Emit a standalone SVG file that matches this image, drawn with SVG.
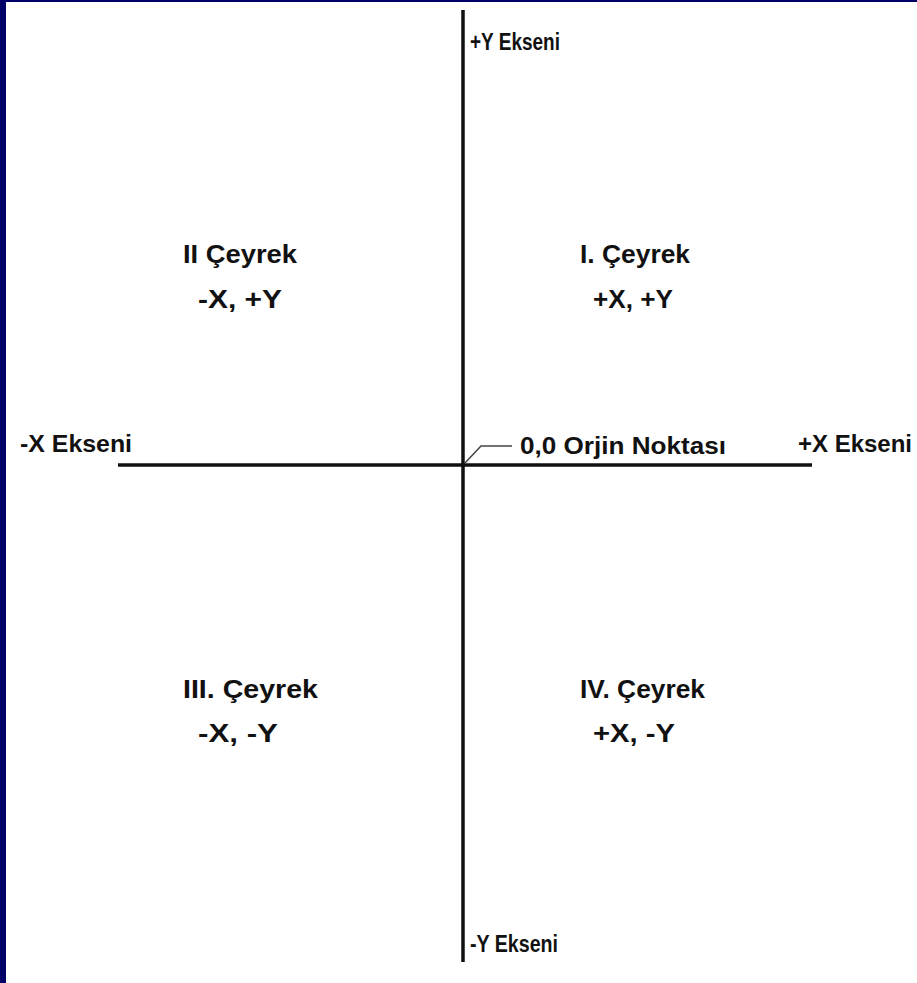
<svg xmlns="http://www.w3.org/2000/svg" width="917" height="983" viewBox="0 0 917 983">
<style>
.axis{stroke:#111;stroke-width:3.5;fill:none}
.lead{stroke:#444;stroke-width:1.5;fill:none}
.ax{font-family:"Liberation Sans",Arial,sans-serif;font-weight:bold;font-size:23px;fill:#111}
.q{font-family:"Liberation Sans",Arial,sans-serif;font-weight:bold;font-size:26px;fill:#111}
</style>
<rect x="0" y="0" width="917" height="983" fill="#ffffff"/>
<rect x="0" y="0" width="917" height="2" fill="#000066"/>
<rect x="0" y="0" width="6" height="983" fill="#000066"/>
<g id="connectors">
<line class="axis" x1="463" y1="10" x2="463" y2="962"/>
<line class="axis" x1="118" y1="465" x2="812" y2="465"/>
<polyline class="lead" points="465,463 481,446 512,446"/>
</g>
<g id="plusY"><text class="ax" x="470" y="50" textLength="90" lengthAdjust="spacingAndGlyphs">+Y Ekseni</text></g>
<g id="minusY"><text class="ax" x="470" y="952" textLength="88" lengthAdjust="spacingAndGlyphs">-Y Ekseni</text></g>
<g id="minusX"><text class="ax" x="20" y="452" textLength="112" lengthAdjust="spacingAndGlyphs">-X Ekseni</text></g>
<g id="plusX"><text class="ax" x="798" y="452" textLength="114" lengthAdjust="spacingAndGlyphs">+X Ekseni</text></g>
<g id="origin"><text class="ax" x="520" y="454" textLength="206" lengthAdjust="spacingAndGlyphs">0,0 Orjin Noktası</text></g>
<g id="q2">
<text class="q" x="183" y="263" textLength="114" lengthAdjust="spacingAndGlyphs">II Çeyrek</text>
<text class="q" x="198" y="308" textLength="84" lengthAdjust="spacingAndGlyphs">-X, +Y</text>
</g>
<g id="q1">
<text class="q" x="580" y="263" textLength="110" lengthAdjust="spacingAndGlyphs">I. Çeyrek</text>
<text class="q" x="593" y="308" textLength="80" lengthAdjust="spacingAndGlyphs">+X, +Y</text>
</g>
<g id="q3">
<text class="q" x="183" y="698" textLength="135" lengthAdjust="spacingAndGlyphs">III. Çeyrek</text>
<text class="q" x="198" y="742" textLength="80" lengthAdjust="spacingAndGlyphs">-X, -Y</text>
</g>
<g id="q4">
<text class="q" x="580" y="698" textLength="125" lengthAdjust="spacingAndGlyphs">IV. Çeyrek</text>
<text class="q" x="593" y="742" textLength="82" lengthAdjust="spacingAndGlyphs">+X, -Y</text>
</g>
</svg>
